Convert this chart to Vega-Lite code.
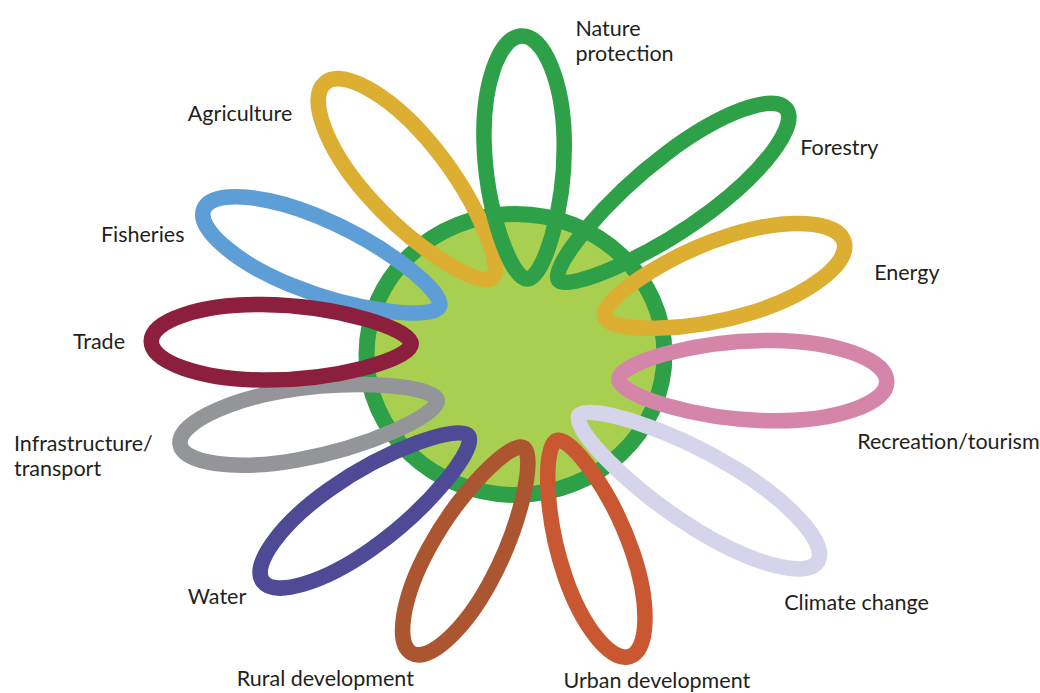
{
  "$schema": "https://vega.github.io/schema/vega-lite/v6.json",
  "width": 1040,
  "height": 693,
  "autosize": {"type": "fit", "contains": "padding"},
  "padding": 0,
  "background": "white",
  "config": {"view": {"stroke": null}},
  "layer": [
    {
      "data": {"values": [{"name": "centre", "x": 516, "y": 355.5, "length": 298}]},
      "mark": {
        "type": "point",
        "shape": "M1,0C1,0.5206 0.552,0.943 0,0.943C-0.552,0.943 -1,0.5206 -1,0C-1,-0.5206 -0.552,-0.943 0,-0.943C0.552,-0.943 1,-0.5206 1,0Z",
        "filled": true,
        "fill": "#A9CF50",
        "stroke": "#2DA048",
        "strokeWidth": 16,
        "opacity": 1
      },
      "encoding": {
        "x": {"field": "x", "type": "quantitative", "scale": {"domain": [0, 1040], "nice": false, "zero": false}, "axis": null},
        "y": {"field": "y", "type": "quantitative", "scale": {"domain": [0, 693], "nice": false, "zero": false, "reverse": true}, "axis": null},
        "size": {"field": "length", "type": "quantitative", "scale": {"type": "pow", "exponent": 2, "domain": [0, 300], "range": [0, 90000]}, "legend": null}
      }
    },
    {
      "data": {"values": [
        {"petal": "Agriculture", "x": 409, "y": 181, "angle": 229.3, "length": 257},
        {"petal": "Nature protection", "x": 525, "y": 158, "angle": 268.7, "length": 243},
        {"petal": "Forestry", "x": 673, "y": 195, "angle": 323.1, "length": 285},
        {"petal": "Energy", "x": 725, "y": 280, "angle": 342.5, "length": 251},
        {"petal": "Urban development", "x": 594, "y": 550, "angle": 71.3, "length": 228},
        {"petal": "Climate change", "x": 699, "y": 490, "angle": 31.4, "length": 280},
        {"petal": "Recreation/tourism", "x": 753.5, "y": 381.5, "angle": 0.6, "length": 268},
        {"petal": "Rural development", "x": 468, "y": 552, "angle": 118.5, "length": 234},
        {"petal": "Infrastructure/transport", "x": 309, "y": 423.5, "angle": 170.2, "length": 261},
        {"petal": "Water", "x": 366, "y": 510, "angle": 144.8, "length": 252},
        {"petal": "Fisheries", "x": 322, "y": 258.5, "angle": 202.4, "length": 255},
        {"petal": "Trade", "x": 281.5, "y": 343.5, "angle": 180.6, "length": 260}
      ]},
      "mark": {"type": "point", "filled": false, "strokeWidth": 15.5, "opacity": 1},
      "encoding": {
        "x": {"field": "x", "type": "quantitative"},
        "y": {"field": "y", "type": "quantitative"},
        "size": {"field": "length", "type": "quantitative"},
        "angle": {"field": "angle", "type": "quantitative", "scale": {"domain": [0, 360], "range": [0, 360]}, "legend": null},
        "stroke": {
          "field": "petal", "type": "nominal", "legend": null,
          "scale": {
            "domain": ["Agriculture", "Nature protection", "Forestry", "Energy", "Urban development", "Climate change", "Recreation/tourism", "Rural development", "Infrastructure/transport", "Water", "Fisheries", "Trade"],
            "range": ["#DCAE32", "#2DA048", "#2DA048", "#DCAE32", "#C95731", "#D6D4EA", "#D584AA", "#AB5630", "#939598", "#4E4A95", "#5E9ED6", "#8C1F3E"]
          }
        },
        "shape": {
          "field": "petal", "type": "nominal", "legend": null,
          "scale": {
            "domain": ["Agriculture", "Nature protection", "Forestry", "Energy", "Urban development", "Climate change", "Recreation/tourism", "Rural development", "Infrastructure/transport", "Water", "Fisheries", "Trade"],
            "range": [
              "M1,0C1,-0.177 0.619,-0.32 0.15,-0.32C-0.425,-0.32 -1,-0.128 -1,0C-1,0.128 -0.425,0.32 0.15,0.32C0.619,0.32 1,0.177 1,0Z",
              "M1,0C1,-0.182 0.619,-0.33 0.15,-0.33C-0.425,-0.33 -1,-0.132 -1,0C-1,0.132 -0.425,0.33 0.15,0.33C0.619,0.33 1,0.182 1,0Z",
              "M1,0C1,-0.141 0.619,-0.256 0.15,-0.256C-0.425,-0.256 -1,-0.102 -1,0C-1,0.102 -0.425,0.256 0.15,0.256C0.619,0.256 1,0.141 1,0Z",
              "M1,0C1,-0.177 0.619,-0.32 0.15,-0.32C-0.425,-0.32 -1,-0.128 -1,0C-1,0.128 -0.425,0.32 0.15,0.32C0.619,0.32 1,0.177 1,0Z",
              "M1,0C1,-0.174 0.619,-0.315 0.15,-0.315C-0.425,-0.315 -1,-0.126 -1,0C-1,0.126 -0.425,0.315 0.15,0.315C0.619,0.315 1,0.174 1,0Z",
              "M1,0C1,-0.144 0.619,-0.26 0.15,-0.26C-0.425,-0.26 -1,-0.104 -1,0C-1,0.104 -0.425,0.26 0.15,0.26C0.619,0.26 1,0.144 1,0Z",
              "M1,0C1,-0.166 0.619,-0.3 0.15,-0.3C-0.425,-0.3 -1,-0.12 -1,0C-1,0.12 -0.425,0.3 0.15,0.3C0.619,0.3 1,0.166 1,0Z",
              "M1,0C1,-0.166 0.619,-0.3 0.15,-0.3C-0.425,-0.3 -1,-0.12 -1,0C-1,0.12 -0.425,0.3 0.15,0.3C0.619,0.3 1,0.166 1,0Z",
              "M1,0C1,-0.149 0.619,-0.27 0.15,-0.27C-0.425,-0.27 -1,-0.108 -1,0C-1,0.108 -0.425,0.27 0.15,0.27C0.619,0.27 1,0.149 1,0Z",
              "M1,0C1,-0.16 0.619,-0.29 0.15,-0.29C-0.425,-0.29 -1,-0.116 -1,0C-1,0.116 -0.425,0.29 0.15,0.29C0.619,0.29 1,0.16 1,0Z",
              "M1,0C1,-0.16 0.619,-0.29 0.15,-0.29C-0.425,-0.29 -1,-0.116 -1,0C-1,0.116 -0.425,0.29 0.15,0.29C0.619,0.29 1,0.16 1,0Z",
              "M1,0C1,-0.16 0.619,-0.29 0.15,-0.29C-0.425,-0.29 -1,-0.116 -1,0C-1,0.116 -0.425,0.29 0.15,0.29C0.619,0.29 1,0.16 1,0Z"
            ]
          }
        }
      }
    },
    {
      "data": {"values": [
        {"label": "Nature\nprotection", "x": 576, "y": 36},
        {"label": "Forestry", "x": 801, "y": 155},
        {"label": "Energy", "x": 875, "y": 281},
        {"label": "Recreation/tourism", "x": 858, "y": 450},
        {"label": "Climate change", "x": 785, "y": 612},
        {"label": "Urban development", "x": 564, "y": 690},
        {"label": "Rural development", "x": 237, "y": 688},
        {"label": "Water", "x": 188, "y": 606},
        {"label": "Infrastructure/\ntransport", "x": 14, "y": 452},
        {"label": "Trade", "x": 73, "y": 350},
        {"label": "Fisheries", "x": 101, "y": 243},
        {"label": "Agriculture", "x": 188, "y": 121}
      ]},
      "mark": {"type": "text", "align": "left", "baseline": "alphabetic", "font": "Lato", "fontSize": 21.5, "color": "#231F20", "lineBreak": "\n", "lineHeight": 25},
      "encoding": {
        "x": {"field": "x", "type": "quantitative"},
        "y": {"field": "y", "type": "quantitative"},
        "text": {"field": "label", "type": "nominal"}
      }
    }
  ]
}
